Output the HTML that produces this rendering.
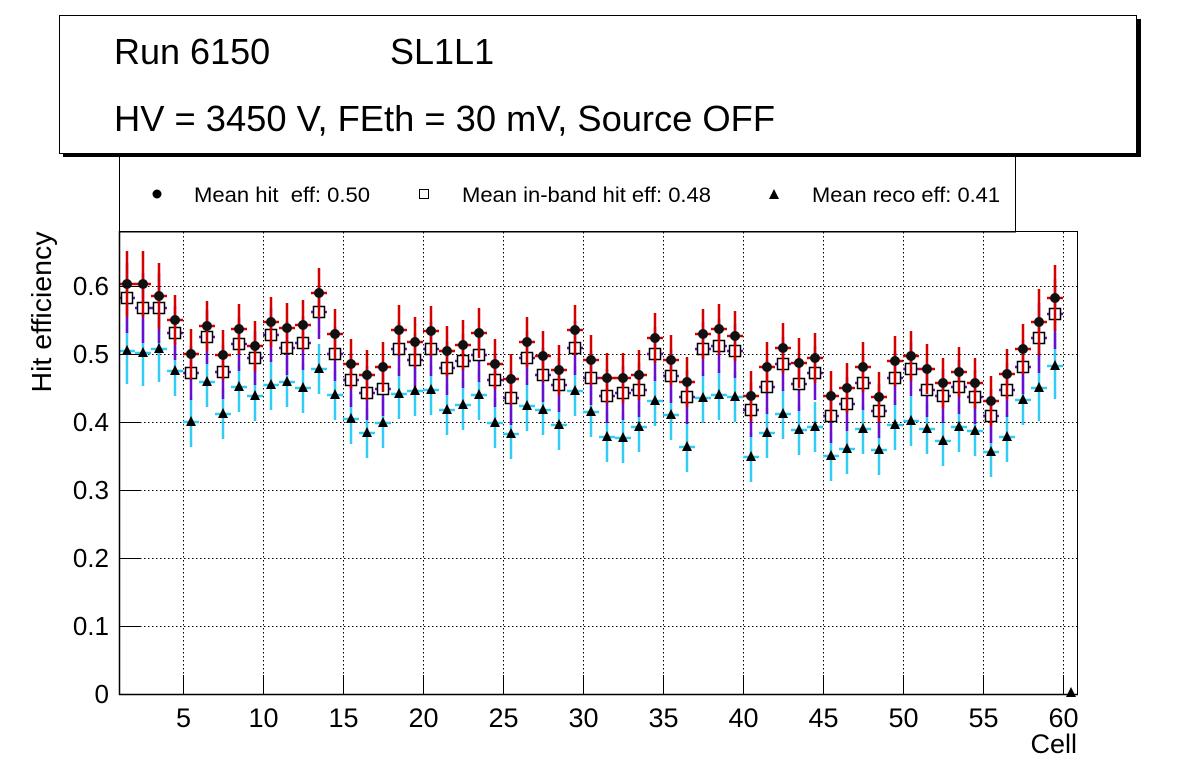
<!DOCTYPE html>
<html><head><meta charset="utf-8"><style>
body{margin:0;background:#fff;}
svg{display:block;font-family:"Liberation Sans",Arial,sans-serif;}
</style></head><body>
<svg id="s" width="1196" height="772" xmlns="http://www.w3.org/2000/svg">
<rect width="1196" height="772" fill="#fff"/>
<rect x="119.5" y="150" width="896" height="82" fill="#fff" stroke="#000" stroke-width="1"/>
<rect x="63" y="19" width="1078" height="138" fill="#000"/>
<rect x="59.5" y="15.5" width="1077" height="138" fill="#fff" stroke="#000" stroke-width="1"/>
<text x="114" y="64" font-size="36">Run 6150</text>
<text x="390" y="64" font-size="36">SL1L1</text>
<text x="114" y="131" font-size="36" textLength="661" lengthAdjust="spacingAndGlyphs">HV = 3450 V, FEth = 30 mV, Source OFF</text>
<circle cx="157" cy="194" r="4.5" fill="#000"/>
<text x="194" y="202" font-size="21" xml:space="preserve" textLength="176" lengthAdjust="spacingAndGlyphs">Mean hit  eff: 0.50</text>
<rect x="419.5" y="189.5" width="9" height="9" fill="#fff" stroke="#000"/>
<text x="462" y="202" font-size="21" textLength="249" lengthAdjust="spacingAndGlyphs">Mean in-band hit eff: 0.48</text>
<polygon points="774,189 769,199 779,199" fill="#000"/>
<text x="812" y="202" font-size="21" textLength="188" lengthAdjust="spacingAndGlyphs">Mean reco eff: 0.41</text>
<g id="grid"></g>
<g id="data"></g>
<rect x="119.5" y="231.5" width="958" height="463" fill="none" stroke="#000" stroke-width="1"/>
<line x1="119.5" y1="231" x2="119.5" y2="695" stroke="#000" stroke-width="1.5"/>
<line x1="119" y1="694.5" x2="1078" y2="694.5" stroke="#000" stroke-width="1.5"/>
<g id="ticks" font-size="26"></g>
<text x="1077" y="753" font-size="27" text-anchor="end">Cell</text>
<text transform="translate(51,312) rotate(-90)" font-size="28" text-anchor="middle" textLength="161" lengthAdjust="spacingAndGlyphs">Hit efficiency</text>
</svg>
<script>
var NS="http://www.w3.org/2000/svg";
function el(p,t,a){var e=document.createElementNS(NS,t);for(var k in a)e.setAttribute(k,a[k]);p.appendChild(e);return e;}
var grid=document.getElementById('grid'),ticks=document.getElementById('ticks'),data=document.getElementById('data');
function X(c){return 119+(c-1)*16;}
function Y(v){return 694-v*680;}
for(var i=1;i<=6;i++){var y=Y(i/10)+0.5;
 el(grid,'line',{x1:120,y1:y,x2:1077,y2:y,stroke:'#000','stroke-dasharray':'1.5,2.5','stroke-width':1});
 el(ticks,'line',{x1:120,y1:y,x2:141,y2:y,stroke:'#000'});}
for(var i=0;i<=6;i++){var t=el(ticks,'text',{x:109,y:Y(i/10)+9,'text-anchor':'end'});t.textContent=i==0?'0':(i/10).toFixed(1);}
for(var c=5;c<=60;c+=5){var x=X(c)+0.5;
 el(grid,'line',{x1:x,y1:232,x2:x,y2:694,stroke:'#000','stroke-dasharray':'1.5,2.5','stroke-width':1});
 el(ticks,'line',{x1:x,y1:694,x2:x,y2:675,stroke:'#000'});
 var t=el(ticks,'text',{x:x,y:727,'text-anchor':'middle','font-size':27});t.textContent=c;}
var H=[284,284,296,320,354,326,355,329,346,322,328,325,293,334,364,375,367,330,342,331,351,345,333,364,379,342,356,370,330,360,378,378,375,338,360,382,334,329,336,396,367,348,363,358,396,388,367,397,361,356,369,383,372,383,401,374,349,322,298,693];
var S=[298,308,308,333,373,337,372,344,358,335,348,343,312,354,380,393,389,349,360,349,368,361,355,380,398,358,375,385,348,378,396,393,390,354,376,397,349,346,351,410,387,364,384,373,416,404,383,411,378,369,390,396,387,397,416,390,367,338,314,693];
var T=[351,353,349,371,422,382,414,387,396,385,382,388,369,395,419,433,423,394,391,390,410,405,395,423,434,406,410,425,391,412,437,438,427,401,415,447,398,395,397,457,433,414,430,427,456,449,429,450,425,421,429,441,427,431,452,437,400,388,366,693];
function bars(arr,col,e){for(var i=0;i<arr.length;i++){if(arr[i]>690)continue;var x=X(i+1.5),y=arr[i];
 var err=e+(i<3||i>56?8:0);
 el(data,'line',{x1:x,y1:y-err,x2:x,y2:y+err,stroke:col,'stroke-width':2.5});
 el(data,'line',{x1:x-8,y1:y,x2:x+8,y2:y,stroke:col,'stroke-width':2.5});}}
bars(T,'#33ccf5',25);
bars(S,'#6a0dcc',27);
for(var i=0;i<60;i++){var x=X(i+1.5);
 if(S[i]<690) el(data,'rect',{x:x-5.5,y:S[i]-5.5,width:11,height:11,fill:'#fff',stroke:'#000','stroke-width':1.5});}
bars(H,'#d40000',25);
for(var i=0;i<60;i++){var x=X(i+1.5);
 el(data,'polygon',{points:(x)+','+(T[i]-6)+' '+(x-5)+','+(T[i]+4)+' '+(x+5)+','+(T[i]+4),fill:'#000'});
 if(H[i]<690) el(data,'circle',{cx:x,cy:H[i],r:5,fill:'#111'});}
</script>
</body></html>
